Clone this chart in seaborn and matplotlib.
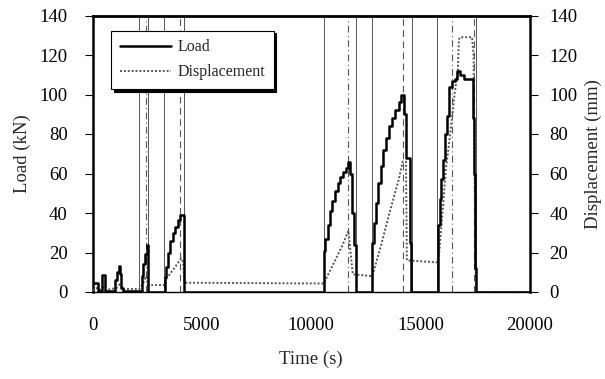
import matplotlib
matplotlib.use("Agg")
import matplotlib.pyplot as plt
import seaborn as sns
import pandas as pd

# ---- data ----
load_time = [0, 250, 450, 560, 1050, 1130, 1200, 1260, 1320, 1400,
             2250, 2320, 2400, 2470, 2520, 2550,
             3300, 3380, 3460, 3560, 3660, 3760, 3900, 4020, 4170, 4200,
             10570, 10650, 10750, 10850, 10950, 11080, 11200, 11330, 11450, 11600, 11680, 11760, 11850, 11950, 12050,
             12790, 12870, 12960, 13060, 13180, 13300, 13420, 13550, 13700, 13850, 13990, 14100, 14220, 14320, 14500, 14560,
             15800, 15880, 15950, 16030, 16120, 16200, 16300, 16450, 16550, 16650, 16780, 17000, 17400, 17430, 17470, 17500, 17530,
             20000]
load_kn = [4.5, 0.5, 8.5, 0.5, 6, 10, 13, 9, 2, 0.5,
           8, 14, 19, 24, 12, 0,
           7.7, 12.8, 19.7, 26, 30, 33, 36.5, 39, 20, 0,
           21, 27, 34, 41, 46, 51, 55, 58, 61, 63, 66, 60, 40, 24, 0,
           25, 35, 45, 55, 64, 72, 78, 84, 88, 92, 96, 99.5, 90, 68, 25, 0,
           34, 47, 57, 67, 80, 89, 104, 107, 108, 112, 110, 108, 88, 60, 30, 12, 0,
           0]

disp_time = [0, 200, 300, 500, 600, 1100, 1250, 1400, 2140, 2300, 2450, 2520, 2560, 3270,
             3400, 3600, 3800, 4050, 4150, 4200, 4250, 10570,
             11000, 11400, 11700, 11780, 11900, 12790,
             13200, 13600, 14000, 14180, 14330, 14370, 15760,
             15850, 16000, 16150, 16300, 16400, 16550, 16700, 16750, 16800, 17350, 17420, 17470, 17530, 20000]
disp_mm = [1, 2, 1, 2.5, 1, 2, 4, 1.5, 1.5, 4, 8, 6, 3.5, 3.5,
           7, 10, 13, 17, 15, 5, 4.7, 4.3,
           14, 23, 31, 22, 9, 8,
           24, 41, 57, 66, 66, 16, 15,
           20, 40, 62, 75, 85, 100, 112, 128, 129, 129, 120, 60, 0, 0]

# event markers (vertical lines)
solid_events = [2140, 2550, 3270, 4200, 10570, 12060, 12790, 14620, 15760, 17530]
dashdot_events = [2450, 11700, 16430]
dashed_events = [4000, 14180, 17420]

x_ticks = [0, 5000, 10000, 15000, 20000]
y_ticks = [0, 20, 40, 60, 80, 100, 120, 140]

# ---- plotting ----
sns.set_theme(style="white")
plt.rcParams['font.family'] = ['Liberation Serif', 'DejaVu Serif']

fig = plt.figure(figsize=(6.05, 3.79), dpi=100)
ax = fig.add_axes([92.5 / 605, 1 - 292 / 379, 437.5 / 605, 276.5 / 379])

for t in solid_events:
    ax.axvline(t, color='#555555', lw=0.7, ls='-', zorder=1)
for t in dashdot_events:
    ax.axvline(t, color='#555555', lw=0.8, ls=(0, (6, 3, 1, 3)), zorder=1)
for t in dashed_events:
    ax.axvline(t, color='#555555', lw=0.8, ls=(0, (6, 4)), zorder=1)

df_load = pd.DataFrame({'t': load_time, 'v': load_kn})
df_disp = pd.DataFrame({'t': disp_time, 'v': disp_mm})

sns.lineplot(data=df_disp, x='t', y='v', ax=ax, color='#555555', lw=1.4,
             ls=(0, (1, 1)), estimator=None, sort=False, label='Displacement', zorder=3)
sns.lineplot(data=df_load, x='t', y='v', ax=ax, color='black', lw=1.8,
             drawstyle='steps-post', estimator=None, sort=False, label='Load', zorder=4)

ax.set_xlim(0, 20000)
ax.set_ylim(0, 140)
ax.set_xticks(x_ticks)
ax.set_yticks(y_ticks)
ax.tick_params(axis='both', direction='out', length=6, width=0.8, labelsize=13.5,
               color='black', labelcolor='black')
ax.tick_params(axis='y', pad=12)
ax.tick_params(axis='x', pad=12)
ax.set_xlabel('Time (s)', fontsize=13.5, labelpad=12)
ax.set_ylabel('Load (kN)', fontsize=13.5, labelpad=6)

for side, w in [('left', 1.8), ('right', 1.8), ('top', 2.0), ('bottom', 1.0)]:
    ax.spines[side].set_visible(True)
    ax.spines[side].set_color('black')
    ax.spines[side].set_linewidth(w)

ax2 = ax.twinx()
ax2.set_ylim(0, 140)
ax2.set_yticks(y_ticks)
ax2.tick_params(axis='y', direction='out', length=6, width=0.8, labelsize=13.5,
                color='black', labelcolor='black', pad=8)
ax2.set_ylabel('Displacement (mm)', fontsize=13.5, labelpad=5)
ax2.grid(False)
for s in ax2.spines.values():
    s.set_visible(False)

handles, labels = ax.get_legend_handles_labels()
order = [labels.index('Load'), labels.index('Displacement')]
leg = ax.legend([handles[i] for i in order], [labels[i] for i in order],
                loc='upper left', bbox_to_anchor=(0.042, 0.945), borderaxespad=0,
                frameon=True, fancybox=False, shadow={'color': 'black', 'alpha': 1.0},
                edgecolor='black', fontsize=11.5, handlelength=3.2, handletextpad=0.4,
                borderpad=0.55, labelspacing=0.55)
leg.get_frame().set_linewidth(0.8)
leg.set_zorder(10)
ax.grid(False)

fig.savefig('out.png', dpi=100)
